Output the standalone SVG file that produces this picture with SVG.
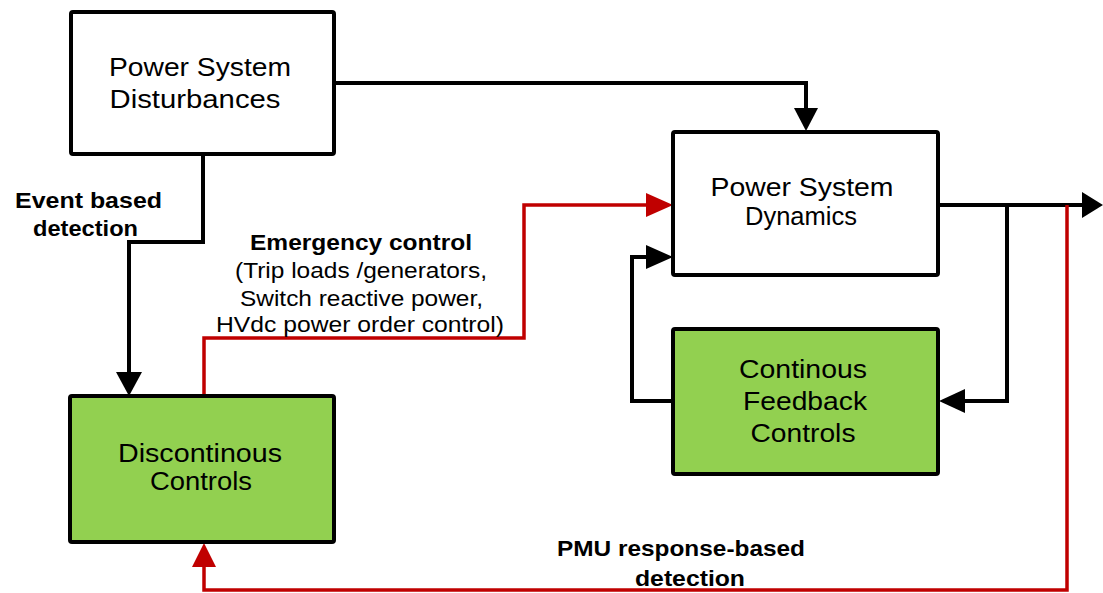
<svg xmlns="http://www.w3.org/2000/svg" width="1103" height="593" viewBox="0 0 1103 593">
<style>
.box{stroke:#000;stroke-width:4;stroke-linejoin:round}
.w{fill:#fff}
.g{fill:#92D050}
.t{font-family:"Liberation Sans",Arial,sans-serif;font-size:26px;fill:#000;text-anchor:middle}
.b{font-family:"Liberation Sans",Arial,sans-serif;font-size:22px;font-weight:bold;fill:#000}
.s{font-family:"Liberation Sans",Arial,sans-serif;font-size:22px;fill:#000}
.k{fill:none;stroke:#000;stroke-width:4;stroke-linejoin:miter}
.r{fill:none;stroke:#C00000;stroke-width:3.5;stroke-linejoin:miter}
.ka{fill:#000}
.ra{fill:#C00000}
</style>
<rect width="1103" height="593" fill="#fff"/>
<g id="connectors">
<polyline class="k" points="334,83 806,83 806,110"/>
<polygon class="ka" points="794,108 818,108 806,131"/>
<polyline class="k" points="203,154 203,242 129,242 129,375"/>
<polygon class="ka" points="116,372 142,372 129,396"/>
<polyline class="k" points="938,205 1085,205"/>
<polygon class="ka" points="1082,192 1103,205 1082,218"/>
<polyline class="k" points="1007,205 1007,401 962,401"/>
<polygon class="ka" points="965,389 965,413 939,401"/>
<polyline class="k" points="673,401 632,401 632,257 650,257"/>
<polygon class="ka" points="646,245 646,269 673,257"/>
<polyline class="r" points="204,396 204,338 524,338 524,205 650,205"/>
<polygon class="ra" points="646,193 646,217 673,205"/>
<polyline class="r" points="1067,205 1067,590 204,590 204,565"/>
<polygon class="ra" points="192,567 216,567 204,543"/>
</g>
<g id="node-disturbances">
<rect class="box w" x="71" y="12" width="263" height="142" rx="2"/>
<text class="t" x="200" y="76" textLength="182" lengthAdjust="spacingAndGlyphs">Power System</text>
<text class="t" x="195" y="108" textLength="171" lengthAdjust="spacingAndGlyphs">Disturbances</text>
</g>
<g id="node-dynamics">
<rect class="box w" x="673" y="132" width="265" height="143" rx="2"/>
<text class="t" x="802" y="196" textLength="183" lengthAdjust="spacingAndGlyphs">Power System</text>
<text class="t" x="801" y="225" textLength="112" lengthAdjust="spacingAndGlyphs">Dynamics</text>
</g>
<g id="node-feedback">
<rect class="box g" x="673" y="329" width="265" height="145" rx="2"/>
<text class="t" x="803" y="378" textLength="128" lengthAdjust="spacingAndGlyphs">Continous</text>
<text class="t" x="805" y="410" textLength="124" lengthAdjust="spacingAndGlyphs">Feedback</text>
<text class="t" x="803" y="442" textLength="105" lengthAdjust="spacingAndGlyphs">Controls</text>
</g>
<g id="node-discontinous">
<rect class="box g" x="70" y="396" width="264" height="146" rx="2"/>
<text class="t" x="200" y="462" textLength="164" lengthAdjust="spacingAndGlyphs">Discontinous</text>
<text class="t" x="201" y="490" textLength="102" lengthAdjust="spacingAndGlyphs">Controls</text>
</g>
<g id="labels">
<text class="b" x="15" y="208" textLength="147" lengthAdjust="spacingAndGlyphs">Event based</text>
<text class="b" x="33" y="236" textLength="105" lengthAdjust="spacingAndGlyphs">detection</text>
<text class="b" x="250" y="250" textLength="222" lengthAdjust="spacingAndGlyphs">Emergency control</text>
<text class="s" x="235" y="278" textLength="252" lengthAdjust="spacingAndGlyphs">(Trip loads /generators,</text>
<text class="s" x="240" y="306" textLength="243" lengthAdjust="spacingAndGlyphs">Switch reactive power,</text>
<text class="s" x="216" y="332" textLength="288" lengthAdjust="spacingAndGlyphs">HVdc power order control)</text>
<text class="b" x="557" y="556" textLength="248" lengthAdjust="spacingAndGlyphs">PMU response-based</text>
<text class="b" x="635" y="586" textLength="110" lengthAdjust="spacingAndGlyphs">detection</text>
</g>
</svg>
